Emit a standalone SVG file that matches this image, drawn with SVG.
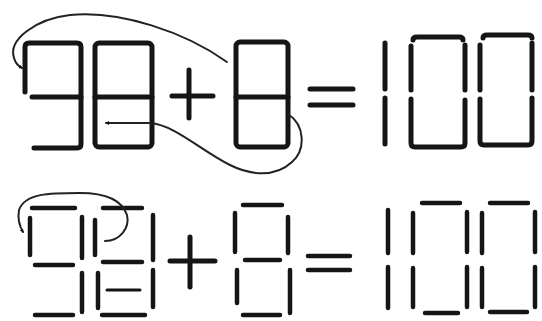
<svg xmlns="http://www.w3.org/2000/svg" width="542" height="321" viewBox="0 0 542 321">
<defs>
<style>
.s{fill:none;stroke:#151515;stroke-width:5;stroke-linecap:round;stroke-linejoin:round}
.m{fill:none;stroke:#151515;stroke-width:4.5;stroke-linecap:round}
.c{fill:none;stroke:#222;stroke-width:2;stroke-linecap:round}
</style>
<marker id="ah" viewBox="0 0 10 10" refX="8" refY="5" markerWidth="4" markerHeight="4" orient="auto" markerUnits="userSpaceOnUse">
<path d="M0 0 L10 5 L0 10 Z" fill="#151515"/>
</marker>
</defs>
<rect width="542" height="321" fill="#fff"/>
<g id="top-digit-9">
<path class="s" d="M25 92 L25 47 Q25 43 29 43 L77 43 Q81 43 81 47 L81 144 Q81 148 77 148 L34 148"/>
<path class="s" d="M32 97 L81 97"/>
</g>
<g id="top-digit-8a">
<rect class="s" x="95" y="43" width="57" height="104" rx="4"/>
<path class="s" d="M95 97 L152 97"/>
</g>
<g id="top-plus">
<path class="s" d="M172 96 L213 96 M189 70 L189 118"/>
</g>
<g id="top-digit-8b">
<rect class="s" x="236" y="42" width="52" height="105" rx="4"/>
<path class="s" d="M236 97 L288 97"/>
</g>
<g id="top-equals">
<path class="s" d="M310 89 L353 89 M310 105 L353 105"/>
</g>
<g id="top-digit-1">
<path class="s" d="M385 43 L385 89 M385 98 L385 144"/>
</g>
<g id="top-digit-0a">
<path class="s" d="M413 40 Q413 37 417 37 L459 37 Q463 37 463 40"/>
<path class="s" d="M411 46 L411 90 M465 45 L465 90"/>
<path class="s" d="M411 99 L411 143 Q411 147 415 147 L461 147 Q465 147 465 143 L465 100"/>
</g>
<g id="top-digit-0b">
<path class="s" d="M483 38 Q483 35 487 35 L528 35 Q532 35 532 38"/>
<path class="s" d="M480 45 L480 90 M532 43 L532 90"/>
<path class="s" d="M480 99 L480 141 Q480 145 484 145 L528 145 Q532 145 532 141 L532 98"/>
</g>
<g id="bottom-digit-9">
<path class="m" d="M32 208 L75 208 M30 218 L30 255 M82 217 L82 258 M35 265 L73 265 M82 273 L82 312 M35 315 L73 315"/>
</g>
<g id="bottom-digit-8a">
<path class="m" d="M103 208 L142 208 M95 220 L95 255 M153 215 L153 260 M103 262 L142 262 M98 273 L98 308 M153 270 L153 307 M102 315 L145 315"/>
<path class="m" style="stroke-width:3" d="M107 290 L140 290"/>
</g>
<g id="bottom-plus">
<path class="s" d="M170 261 L215 261 M190 237 L190 287"/>
</g>
<g id="bottom-digit-8b">
<path class="m" d="M243 205 L282 205 M235 213 L235 252 M288 217 L288 253 M245 260 L280 260 M237 270 L237 303 M290 270 L290 313 M243 315 L280 315"/>
</g>
<g id="bottom-equals">
<path class="m" d="M308 256 L350 256 M308 270 L350 270"/>
</g>
<g id="bottom-digit-1">
<path class="m" d="M388 210 L388 253 M388 267 L388 308"/>
</g>
<g id="bottom-digit-0a">
<path class="m" d="M422 203 L460 203 M413 213 L413 253 M467 212 L467 252 M413 268 L413 307 M467 267 L467 307 M425 313 L458 313"/>
</g>
<g id="bottom-digit-0b">
<path class="m" d="M490 203 L528 203 M482 213 L482 253 M535 212 L535 252 M482 268 L482 307 M535 267 L535 307 M490 312 L527 312"/>
</g>
<g id="connectors">
<path class="c" marker-end="url(#ah)" d="M227 62 C185 32, 120 10, 70 15 C35 19, 8 40, 14 58 Q16 65 22 68"/>
<path class="c" marker-end="url(#ah)" d="M288 114 C305 125, 306 150, 292 162 C275 178, 250 175, 230 165 C200 150, 175 125, 150 123 L106 123"/>
<path class="c" marker-end="url(#ah)" d="M105 241 C120 241, 130 228, 127 215 C122 200, 105 193, 80 193 C50 193, 25 193, 19 210 Q17 222 23 232"/>
</g>
</svg>
